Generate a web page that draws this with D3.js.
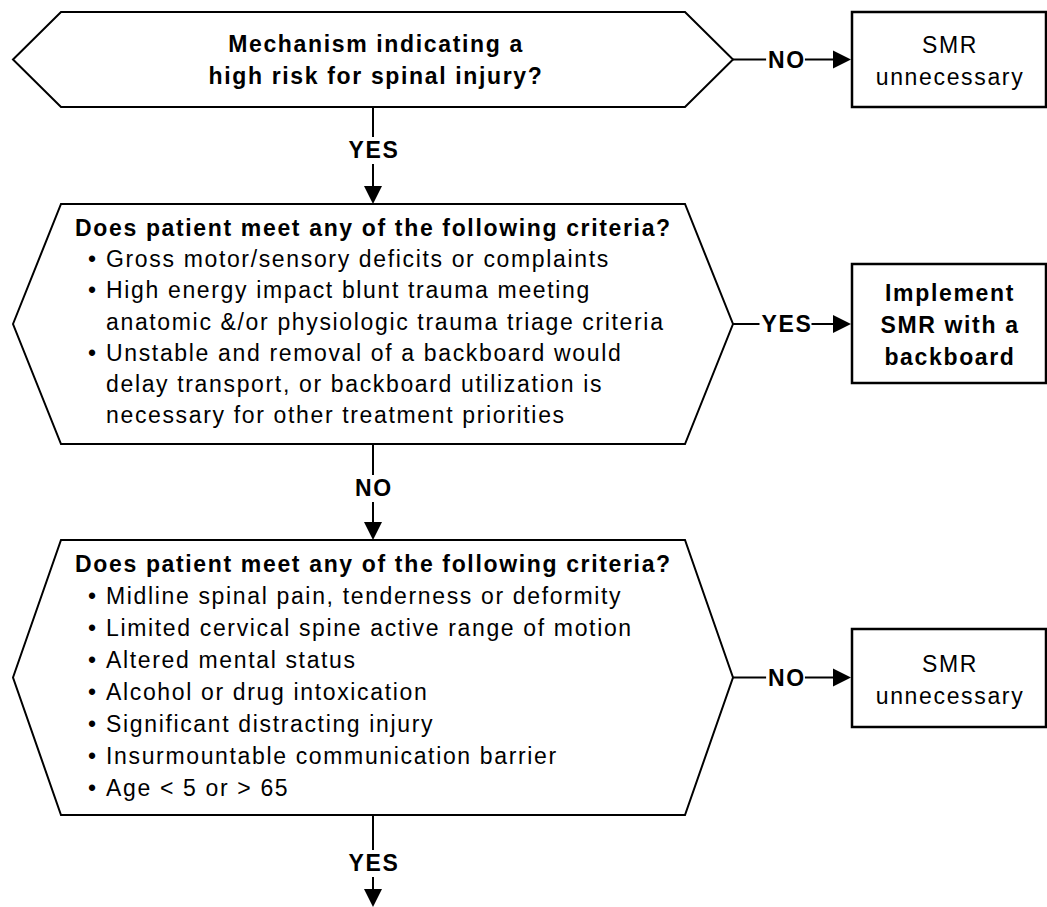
<!doctype html>
<html>
<head>
<meta charset="utf-8">
<script src="https://d3js.org/d3.v7.min.js"></script>
<style>
    body { margin: 0; background: #fff; }
    text { font-family: "Liberation Sans", Arial, sans-serif; font-size: 23px; letter-spacing: 1.65px; fill: #000; }
    .bold { font-weight: bold; }
</style>
</head>
<body>
<svg id="chart" width="1047" height="907"></svg>
<script>
    // flowchart content
    var questions = [
        ["Mechanism indicating a", "high risk for spinal injury?"],
        ["Does patient meet any of the following criteria?"],
        ["Does patient meet any of the following criteria?"]
    ];
    var criteria2 = [
        ["Gross motor/sensory deficits or complaints"],
        ["High energy impact blunt trauma meeting", "anatomic &/or physiologic trauma triage criteria"],
        ["Unstable and removal of a backboard would", "delay transport, or backboard utilization is", "necessary for other treatment priorities"]
    ];
    var criteria3 = [
        ["Midline spinal pain, tenderness or deformity"],
        ["Limited cervical spine active range of motion"],
        ["Altered mental status"],
        ["Alcohol or drug intoxication"],
        ["Significant distracting injury"],
        ["Insurmountable communication barrier"],
        ["Age < 5 or > 65"]
    ];
    var outcomes = [["SMR", "unnecessary"], ["Implement", "SMR with a", "backboard"], ["SMR", "unnecessary"]];
    var outcomeBold = [false, true, false];
    var sideLabels = ["NO", "YES", "NO"];
    var downLabels = ["YES", "NO", "YES"];

    // layout
    var svg = d3.select("#chart");
    var xL = 13, xIL = 61, xIR = 685, xR = 733, cx = 373;
    var boxX0 = 852, boxX1 = 1046;
    var hex = [{top: 12, bottom: 107}, {top: 204, bottom: 444}, {top: 540, bottom: 815}];
    var boxes = [{top: 12, bottom: 107}, {top: 264, bottom: 383}, {top: 629, bottom: 727}];
    var downEnds = [204, 540, 907];
    var downLabelY = [150, 488, 863];
    var lineGap = [31.5, 31.2, 32];
    var criteriaLists = [[], criteria2, criteria3];

    var line = d3.line();
    var g = svg.append("g");

    function arrowHead(x, y, dir) {
        var pts = dir === "down"
            ? [[x, y], [x - 9, y - 18], [x + 9, y - 18]]
            : [[x, y], [x - 18, y - 9], [x - 18, y + 9]];
        g.append("path").attr("d", line(pts) + "Z").attr("fill", "#000");
    }

    hex.forEach(function(h, i) {
        var mid = (h.top + h.bottom) / 2;
        g.append("path")
         .attr("d", line([[xL, mid], [xIL, h.top], [xIR, h.top], [xR, mid], [xIR, h.bottom], [xIL, h.bottom]]) + "Z")
         .attr("fill", "#fff").attr("stroke", "#000").attr("stroke-width", 2);

        // text inside
        var items = criteriaLists[i];
        if (items.length === 0) {
            questions[i].forEach(function(t, k) {
                g.append("text").attr("class", "bold")
                 .attr("x", cx + 3).attr("y", 52 + k * lineGap[i])
                 .attr("text-anchor", "middle").text(t);
            });
        } else {
            var y = h.top + 32;
            g.append("text").attr("class", "bold").attr("x", 75).attr("y", y).text(questions[i][0]);
            items.forEach(function(item) {
                item.forEach(function(t, k) {
                    y += lineGap[i];
                    if (k === 0) {
                        g.append("text").attr("x", 88).attr("y", y).text("\u2022");
                    }
                    g.append("text").attr("x", 106).attr("y", y).text(t);
                });
            });
        }

        // side branch
        var b = boxes[i];
        var bm = (b.top + b.bottom) / 2;
        g.append("rect")
         .attr("x", boxX0).attr("y", b.top)
         .attr("width", boxX1 - boxX0).attr("height", b.bottom - b.top)
         .attr("fill", "#fff").attr("stroke", "#000").attr("stroke-width", 2.5);
        var n = outcomes[i].length;
        outcomes[i].forEach(function(t, k) {
            g.append("text").attr("class", outcomeBold[i] ? "bold" : null)
             .attr("x", (boxX0 + boxX1) / 2 + 1).attr("y", bm - (n - 1) * 16 + 9.5 + k * 32)
             .attr("text-anchor", "middle").text(t);
        });

        var sl = g.append("text").attr("class", "bold")
                  .attr("x", 787).attr("y", mid + 8)
                  .attr("text-anchor", "middle").text(sideLabels[i]);
        var sb = sl.node().getBBox();
        g.append("path").attr("d", line([[xR, mid], [sb.x - 2, mid]])).attr("stroke", "#000").attr("stroke-width", 2);
        g.append("path").attr("d", line([[sb.x + sb.width - 1, mid], [boxX0 - 10, mid]])).attr("stroke", "#000").attr("stroke-width", 2);
        arrowHead(boxX0 - 1, mid, "right");

        // downward branch
        var ly = downLabelY[i];
        g.append("text").attr("class", "bold")
         .attr("x", cx + 1).attr("y", ly + 8)
         .attr("text-anchor", "middle").text(downLabels[i]);
        g.append("path").attr("d", line([[cx, h.bottom], [cx, ly - 13]])).attr("stroke", "#000").attr("stroke-width", 2);
        g.append("path").attr("d", line([[cx, ly + 14], [cx, downEnds[i] - 10]])).attr("stroke", "#000").attr("stroke-width", 2);
        arrowHead(cx, downEnds[i], "down");
    });
</script>
</body>
</html>
